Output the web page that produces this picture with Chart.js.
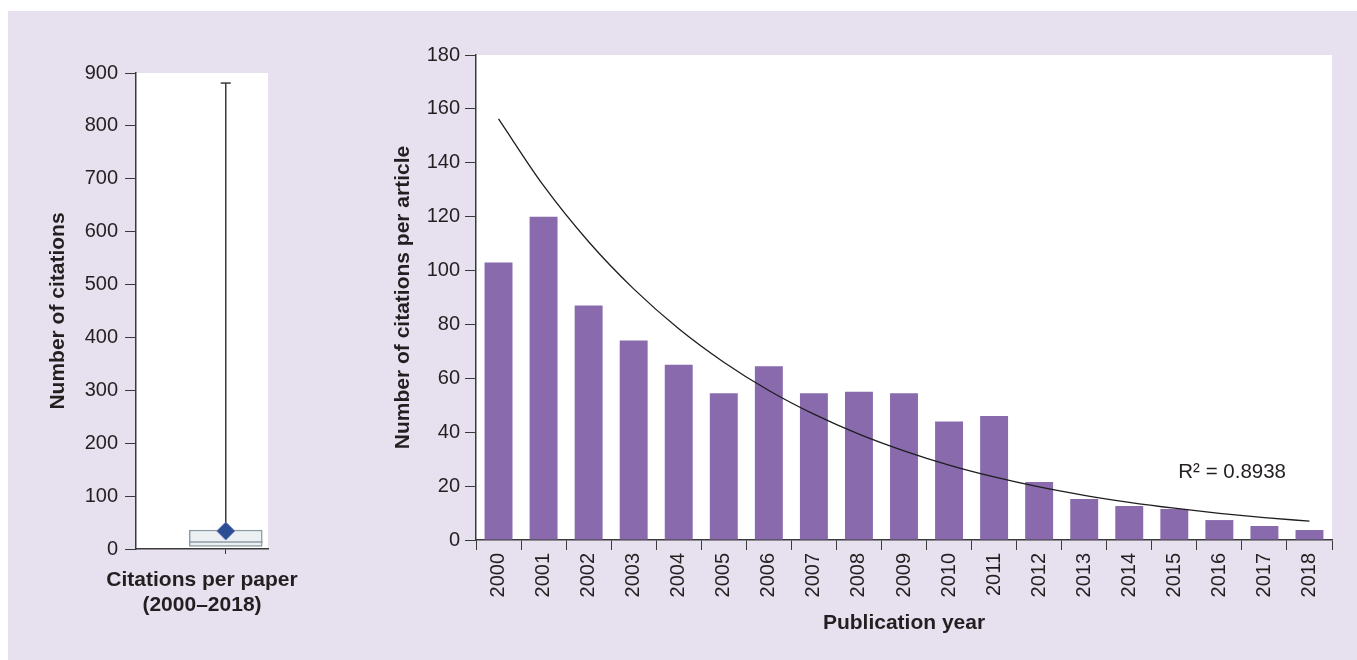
<!DOCTYPE html>
<html>
<head>
<meta charset="utf-8">
<script src="https://cdn.jsdelivr.net/npm/chart.js@4.4.0/dist/chart.umd.min.js"></script>
<style>
  body { margin: 0; background: #fff; width: 1357px; height: 660px; position: relative; overflow: hidden; }
  #bg { position: absolute; left: 8px; top: 11px; right: 0; bottom: 0; background: #e6e0ef; }
  #boxChart { position: absolute; left: 0; top: 0; }
  #barChart { position: absolute; left: 330px; top: 0; }
</style>
</head>
<body>
<div id="bg"></div>
<canvas id="boxChart" width="330" height="660"></canvas>
<canvas id="barChart" width="1027" height="660"></canvas>
<script>
// citations per paper (box plot, left panel)
const boxWhisker = [36, 881];
const boxQuartiles = [5, 36];
const boxMedian = 13;
const boxMean = 34;
const boxTicks = [0, 100, 200, 300, 400, 500, 600, 700, 800, 900];
const boxTitle = ["Citations per paper", "(2000\u20132018)"];

// citations per article by year (right panel)
const years = ["2000", "2001", "2002", "2003", "2004", "2005", "2006", "2007", "2008", "2009",
               "2010", "2011", "2012", "2013", "2014", "2015", "2016", "2017", "2018"];
const citesPerArticle = [103, 120, 87, 74, 65, 54.5, 64.5, 54.5, 55, 54.5,
                         44, 46, 21.5, 15.2, 12.6, 11.5, 7.4, 5.2, 3.7];
const trendValues = [156.3, 131.5, 110.7, 93.2, 78.4, 66.0, 55.5, 46.7, 39.3, 33.1,
                     27.8, 23.4, 19.7, 16.6, 14.0, 11.8, 9.9, 8.3, 7.0];
const rSquaredText = "R\u00b2 = 0.8938";

const ink = "#231f20";
const axisCol = "#3a3a3a";
const fontFamily = "'Liberation Sans', Arial, sans-serif";
const tickFont = { family: fontFamily, size: 20 };
const titleFont = { family: fontFamily, size: 21, weight: "bold" };

const whiteArea = {
    id: "whiteArea",
    beforeDraw(chart) {
        const a = chart.chartArea;
        chart.ctx.save();
        chart.ctx.fillStyle = "#fff";
        chart.ctx.fillRect(a.left, a.top, a.right - a.left, a.bottom - a.top);
        chart.ctx.restore();
    }
};

// the axis title is clipped to the narrow plot width, so it is drawn here instead
const boxXTitle = {
    id: "boxXTitle",
    afterDraw(chart) {
        const ctx = chart.ctx;
        const a = chart.chartArea;
        const cx = (a.left + a.right) / 2;
        ctx.save();
        ctx.font = "bold 21px " + fontFamily;
        ctx.fillStyle = ink;
        ctx.textAlign = "center";
        ctx.textBaseline = "middle";
        boxTitle.forEach((line, i) => ctx.fillText(line, cx, a.bottom + 31 + i * 25));
        ctx.restore();
    }
};

// left: box plot
const boxX = 0.68;
const boxHalf = 0.279;
const capHalf = 0.038;

new Chart(document.getElementById("boxChart"), {
    data: {
        datasets: [
            {
                type: "bar",
                data: [{ x: boxX, y: boxQuartiles }],
                backgroundColor: "#edf0f2",
                borderColor: "#8d9ba4",
                borderWidth: 1.5,
                borderSkipped: false,
                barThickness: 73,
                order: 3
            },
            {
                type: "scatter",
                data: [{ x: boxX - boxHalf, y: boxMedian }, { x: boxX + boxHalf, y: boxMedian }],
                showLine: true,
                borderColor: "#8d9ba4",
                borderWidth: 1.5,
                pointRadius: 0,
                order: 2
            },
            {
                type: "scatter",
                data: [{ x: boxX, y: boxWhisker[0] }, { x: boxX, y: boxWhisker[1] }],
                showLine: true,
                borderColor: axisCol,
                borderWidth: 1.5,
                pointRadius: 0,
                order: 2
            },
            {
                type: "scatter",
                data: [{ x: boxX - capHalf, y: boxWhisker[1] }, { x: boxX + capHalf, y: boxWhisker[1] }],
                showLine: true,
                borderColor: axisCol,
                borderWidth: 1.5,
                pointRadius: 0,
                order: 2
            },
            {
                type: "scatter",
                data: [{ x: boxX, y: boxMean }],
                pointStyle: "rectRot",
                pointRadius: 9,
                backgroundColor: "#2b4d91",
                borderColor: "#6a7fc0",
                borderWidth: 1,
                order: 1
            }
        ]
    },
    options: {
        responsive: false,
        animation: false,
        layout: { padding: { left: 0, right: 62, top: 73, bottom: 0 } },
        plugins: { legend: { display: false }, tooltip: { enabled: false } },
        scales: {
            x: {
                type: "linear",
                min: 0,
                max: 1,
                offset: false,
                afterBuildTicks: (s) => { s.ticks = [{ value: boxX }]; },
                afterFit: (s) => { s.height = 111; },
                ticks: { callback: () => "", padding: 0 },
                grid: { offset: false, drawOnChartArea: false, drawTicks: true, tickLength: 5, color: axisCol },
                border: { color: axisCol, width: 1.5 }
            },
            y: {
                min: 0,
                max: 900,
                afterBuildTicks: (s) => { s.ticks = boxTicks.map(v => ({ value: v })); },
                afterFit: (s) => { s.width = 136; },
                ticks: { font: tickFont, color: ink, padding: 7 },
                grid: { drawOnChartArea: false, drawTicks: true, tickLength: 11, color: axisCol },
                border: { color: axisCol, width: 1.5 },
                title: {
                    display: true,
                    text: "Number of citations",
                    font: titleFont,
                    color: ink,
                    padding: { top: 46, bottom: 0 }
                }
            }
        }
    },
    plugins: [whiteArea, boxXTitle]
});

// right: bars with exponential trend
const rLabel = {
    id: "rLabel",
    afterDatasetsDraw(chart) {
        const ctx = chart.ctx;
        const x = chart.scales.x.getPixelForValue(15) + 4;
        const y = chart.scales.y.getPixelForValue(25);
        ctx.save();
        ctx.font = "20.5px " + fontFamily;
        ctx.fillStyle = ink;
        ctx.textBaseline = "middle";
        ctx.fillText(rSquaredText, x, y);
        ctx.restore();
    }
};

new Chart(document.getElementById("barChart"), {
    data: {
        labels: years,
        datasets: [
            {
                type: "line",
                data: trendValues,
                borderColor: "#1e1e1e",
                borderWidth: 1.3,
                pointRadius: 0,
                cubicInterpolationMode: "monotone",
                order: 1
            },
            {
                type: "bar",
                data: citesPerArticle,
                backgroundColor: "#886aad",
                barPercentage: 0.62,
                categoryPercentage: 1,
                order: 2
            }
        ]
    },
    options: {
        responsive: false,
        animation: false,
        layout: { padding: { left: 0, right: 25, top: 55, bottom: 0 } },
        plugins: { legend: { display: false }, tooltip: { enabled: false } },
        scales: {
            x: {
                afterFit: (s) => { s.height = 120; },
                ticks: { font: tickFont, color: ink, minRotation: 90, maxRotation: 90, autoSkip: false, padding: 3 },
                grid: { offset: true, drawOnChartArea: false, drawTicks: true, tickLength: 10, color: axisCol },
                border: { color: axisCol, width: 1.5 },
                title: {
                    display: true,
                    text: "Publication year",
                    font: titleFont,
                    color: ink,
                    padding: { top: 0, bottom: 24 }
                }
            },
            y: {
                min: 0,
                max: 180,
                ticks: { stepSize: 20, font: tickFont, color: ink, padding: 5 },
                afterFit: (s) => { s.width = 146; },
                grid: { drawOnChartArea: false, drawTicks: true, tickLength: 11, color: axisCol },
                border: { color: axisCol, width: 1.5 },
                title: {
                    display: true,
                    text: "Number of citations per article",
                    font: titleFont,
                    color: ink,
                    padding: { top: 61, bottom: 0 }
                }
            }
        }
    },
    plugins: [whiteArea, rLabel]
});
</script>
</body>
</html>
